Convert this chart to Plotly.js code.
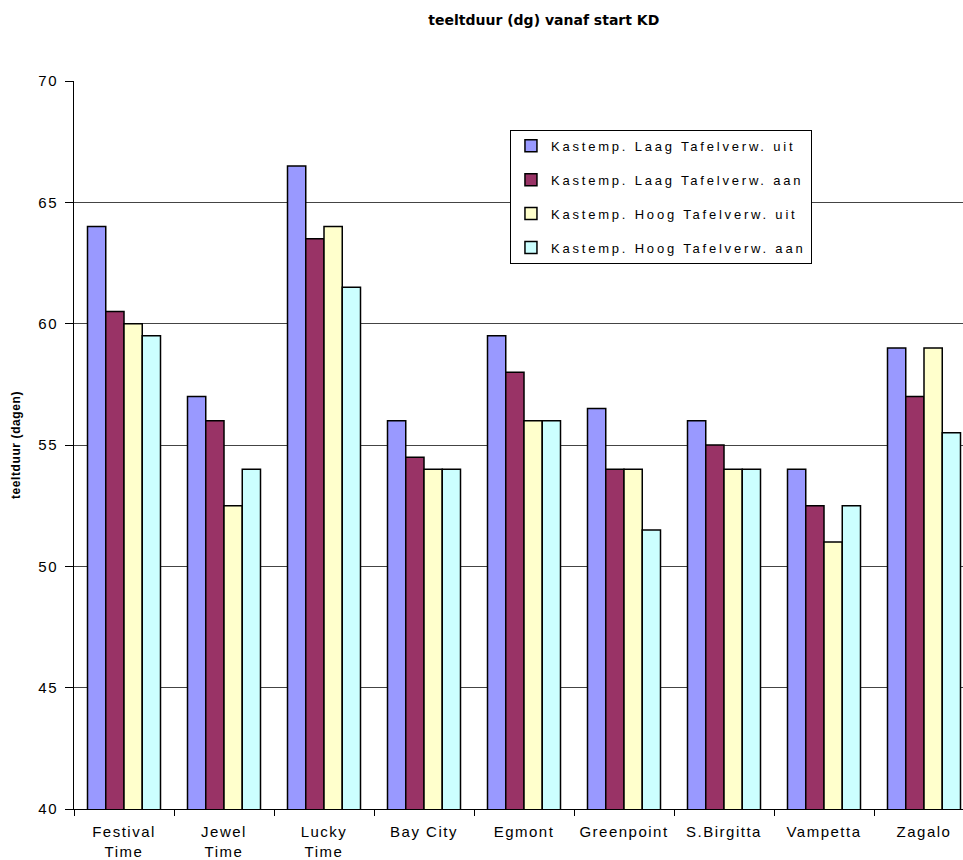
<!DOCTYPE html>
<html>
<head>
<meta charset="utf-8">
<script src="https://cdn.plot.ly/plotly-3.0.1.min.js"></script>
<style>
html, body { margin: 0; padding: 0; overflow: hidden; background: #fff; }
#chart { width: 990px; height: 860px; }
text.legendtext { letter-spacing: 2.8px; }
.xtick text, .ytick text { letter-spacing: 1.5px; }
.g-ytitle text, text.ytitle { letter-spacing: 0.6px; }
</style>
</head>
<body>
<div id="chart"></div>
<script>
const categories = ["Festival<br>Time", "Jewel<br>Time", "Lucky<br>Time", "Bay City", "Egmont", "Greenpoint", "S.Birgitta", "Vampetta", "Zagalo"];
const seriesNames = ["Kastemp. Laag Tafelverw. uit", "Kastemp. Laag Tafelverw. aan", "Kastemp. Hoog Tafelverw. uit", "Kastemp. Hoog Tafelverw. aan"];
const laagUit = [64, 57, 66.5, 56, 59.5, 56.5, 56, 54, 59];
const laagAan = [60.5, 56, 63.5, 54.5, 58, 54, 55, 52.5, 57];
const hoogUit = [60, 52.5, 64, 54, 56, 54, 54, 51, 59];
const hoogAan = [59.5, 54, 61.5, 54, 56, 51.5, 54, 52.5, 55.5];
const colors = ["#9999FF", "#993366", "#FFFFCC", "#CCFFFF"];
const yTicks = [40, 45, 50, 55, 60, 65, 70];

const allSeries = [laagUit, laagAan, hoogUit, hoogAan];
const traces = allSeries.map((vals, i) => ({
  type: "bar",
  name: seriesNames[i],
  x: categories,
  y: vals,
  legendgroup: "g" + i,
  marker: { color: colors[i], line: { color: "#000", width: 1.5 } },
  hoverinfo: "y"
}));

const layout = {
  width: 990,
  height: 860,
  margin: { l: 74, r: 16, t: 81, b: 51 },
  paper_bgcolor: "#fff",
  plot_bgcolor: "#fff",
  font: { family: "Liberation Sans, Arial, sans-serif", color: "#000", size: 13 },
  title: {
    text: "<b>teeltduur (dg) vanaf start KD</b>",
    font: { size: 14, family: "DejaVu Sans, sans-serif", color: "#000" },
    x: 0.522, xref: "paper", xanchor: "center",
    y: 0.9767, yref: "container", yanchor: "middle"
  },
  barmode: "group",
  bargap: 0.27,
  bargroupgap: 0,
  showlegend: true,
  legend: {
    x: 0.4844, y: 0.933, xanchor: "left", yanchor: "top",
    bgcolor: "#fff", bordercolor: "#000", borderwidth: 1,
    font: { size: 13, color: "#000" },
    tracegroupgap: 14,
    itemwidth: 30,
    traceorder: "grouped"
  },
  xaxis: {
    type: "category",
    tickson: "boundaries",
    ticks: "outside",
    ticklen: 6,
    tickcolor: "#000",
    ticklabelstandoff: 9,
    showline: true,
    linecolor: "#000",
    linewidth: 1,
    showgrid: false,
    tickfont: { size: 15 },
    tickangle: 0,
    fixedrange: true
  },
  yaxis: {
    range: [40, 70],
    tickvals: yTicks,
    ticktext: yTicks.map(String),
    ticks: "outside",
    ticklen: 8,
    tickcolor: "#000",
    ticklabelstandoff: 4,
    showline: true,
    linecolor: "#000",
    linewidth: 1,
    showgrid: true,
    gridcolor: "#444",
    gridwidth: 1,
    zeroline: false,
    tickfont: { size: 15 },
    title: {
      text: "<b>teeltduur (dagen)</b>",
      font: { size: 12 },
      standoff: 15
    },
    fixedrange: true
  }
};

Plotly.newPlot("chart", traces, layout, { displayModeBar: false, responsive: false });
</script>
</body>
</html>
